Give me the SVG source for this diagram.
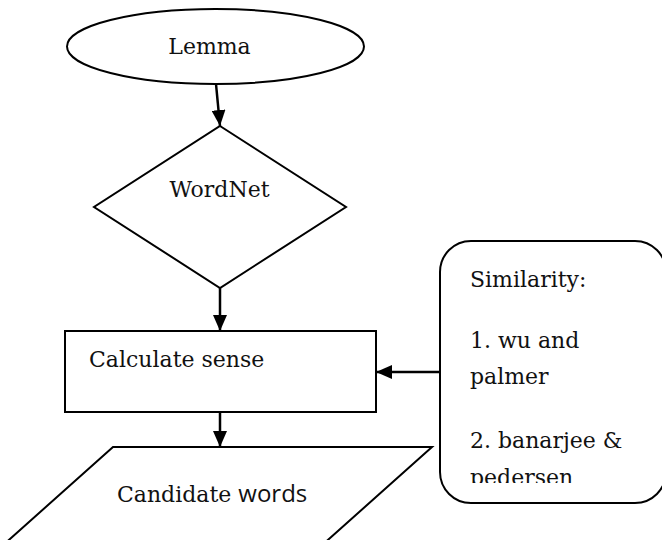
<svg xmlns="http://www.w3.org/2000/svg" width="662" height="540" viewBox="0 0 662 540">
  <style>
    .shape { fill: #ffffff; stroke: #000000; stroke-width: 2; }
    .label { font-family: "DejaVu Serif", "Liberation Serif", serif; font-size: 22px; fill: #111111; }
    .sans { font-family: "Open Sans", "DejaVu Sans", sans-serif; }
    .conn { stroke: #000000; stroke-width: 2.5; fill: none; }
  </style>
  <defs>
    <marker id="arrow" viewBox="0 0 16 14" refX="16" refY="7" markerWidth="16" markerHeight="14" markerUnits="userSpaceOnUse" orient="auto">
      <path d="M0,0 L16,7 L0,14 Z" fill="#000000"/>
    </marker>
    <clipPath id="boxClip">
      <rect x="440" y="240" width="230" height="243"/>
    </clipPath>
  </defs>

  <rect width="662" height="540" fill="#ffffff"/>

  <g id="lemma">
    <ellipse class="shape" cx="215.5" cy="46.5" rx="148.5" ry="37.5"/>
    <text class="label" x="209.5" y="54" text-anchor="middle">Lemma</text>
  </g>

  <g id="wordnet">
    <polygon class="shape" points="220,126 346,207 220,288 94,207"/>
    <text class="label" x="219.5" y="197" text-anchor="middle">WordNet</text>
  </g>

  <g id="calculate-sense">
    <rect class="shape" x="65" y="331" width="311" height="81"/>
    <text class="label" x="89" y="367">Calculate sense</text>
  </g>

  <g id="candidate-words">
    <polygon class="shape" points="113,447 432,447 320,547 1,547"/>
    <text class="label" x="117" y="502">Candidate <tspan class="sans" font-size="24">words</tspan></text>
  </g>

  <g id="similarity">
    <rect class="shape" x="440" y="241" width="226" height="262" rx="31" ry="31"/>
    <g clip-path="url(#boxClip)">
      <text class="label" x="470" y="287">Similarity:</text>
      <text class="label" x="470" y="348">1. wu and</text>
      <text class="label" x="470" y="384">palmer</text>
      <text class="label" x="470" y="448">2. banarjee &amp;</text>
      <text class="label" x="470" y="485">pedersen</text>
    </g>
  </g>

  <g id="connectors">
    <line class="conn" x1="216" y1="84" x2="220" y2="126" marker-end="url(#arrow)"/>
    <line class="conn" x1="220" y1="288" x2="220" y2="331" marker-end="url(#arrow)"/>
    <line class="conn" x1="220" y1="412" x2="220" y2="447" marker-end="url(#arrow)"/>
    <line class="conn" x1="440" y1="372" x2="376" y2="372" marker-end="url(#arrow)"/>
  </g>
</svg>
